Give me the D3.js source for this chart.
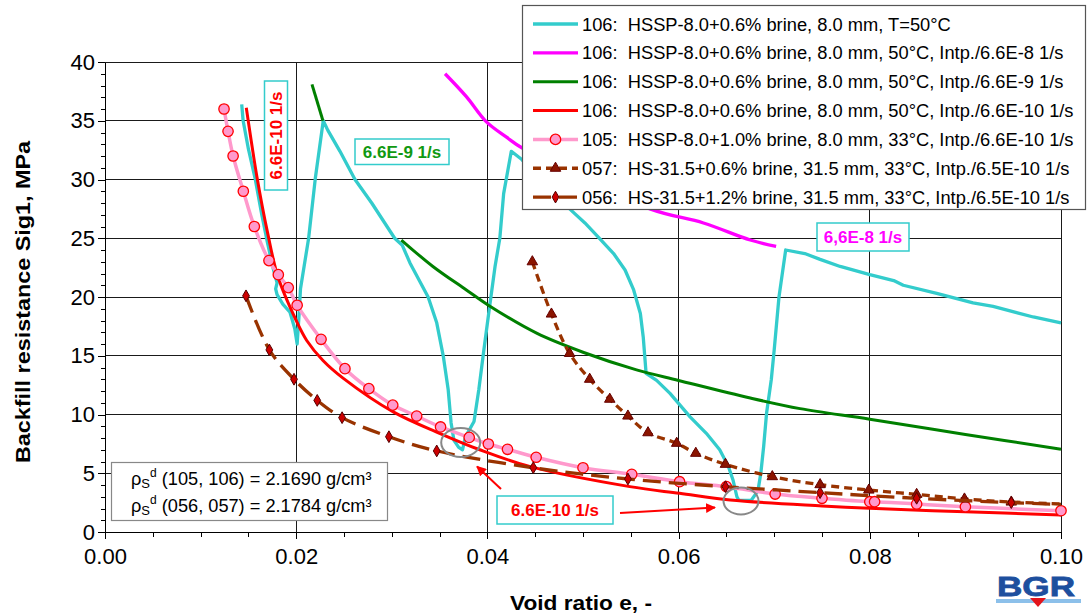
<!DOCTYPE html>
<html>
<head>
<meta charset="utf-8">
<script src="https://cdn.jsdelivr.net/npm/d3@7"></script>
<style>
  body { margin: 0; background: #fff; }
  svg { display: block; font-family: Arial, "Liberation Sans", sans-serif; }
  text { white-space: pre; }
</style>
</head>
<body>
<svg id="chart" width="1088" height="614"></svg>
<script>
// ---- axis ticks ----
const xMajorTicks = [0, 0.02, 0.04, 0.06, 0.08, 0.10];
const xMinorTicks = d3.range(0, 0.1001, 0.005);
const yMajorTicks = [0, 5, 10, 15, 20, 25, 30, 35, 40];
const yMinorTicks = d3.range(0, 41, 1);

// ---- 106 measured curve (void ratio, Sig1 MPa) ----
const measured106 = [
  [0.01430, 36.4], [0.01445, 35.0], [0.01500, 32.6], [0.01570, 30.1], [0.01640, 27.0],
  [0.01700, 24.6], [0.01760, 22.4], [0.01800, 21.2], [0.01785, 20.7], [0.01800, 20.2],
  [0.01860, 19.4], [0.01935, 18.7], [0.01985, 17.3], [0.02010, 16.0],
  [0.02030, 18.5], [0.02045, 20.7], [0.02130, 25.0], [0.02200, 30.1], [0.02283, 35.0],
  [0.02330, 34.2], [0.02458, 32.4], [0.02615, 30.0], [0.02790, 28.0], [0.03030, 25.0],
  [0.03110, 24.4], [0.03190, 22.9], [0.03380, 20.0], [0.03470, 17.8], [0.03540, 14.9],
  [0.03590, 12.1], [0.03620, 9.3], [0.03650, 7.8], [0.03700, 7.2], [0.03740, 7.0],
  [0.03770, 8.1], [0.03860, 9.4], [0.03910, 12.1], [0.03960, 15.3], [0.04020, 19.0],
  [0.04080, 22.6], [0.04130, 25.0], [0.04170, 28.8], [0.04250, 32.4],
  [0.04360, 31.7], [0.04860, 27.5], [0.05020, 26.3], [0.05160, 25.1], [0.05320, 23.7],
  [0.05440, 22.3], [0.05530, 20.6], [0.05600, 18.6], [0.05630, 16.6], [0.05660, 13.5],
  [0.05770, 12.9], [0.05910, 11.8], [0.06120, 9.8], [0.06290, 8.4], [0.06430, 7.0],
  [0.06520, 5.6], [0.06570, 4.4], [0.06610, 3.0], [0.06630, 2.7], [0.06760, 2.7],
  [0.06830, 3.5], [0.06860, 5.0], [0.06890, 7.3], [0.06920, 10.1], [0.06970, 13.0],
  [0.07000, 15.5], [0.07050, 20.0], [0.07120, 24.0],
  [0.07320, 23.7], [0.07480, 23.2], [0.07690, 22.6], [0.08000, 21.9], [0.08250, 21.4],
  [0.08350, 21.0], [0.08700, 20.3], [0.09080, 19.5], [0.09290, 19.2], [0.09710, 18.3],
  [0.10000, 17.8]
];

// ---- 106 interpolated at 6.6E-8 1/s ----
const intp8E = [0.03557, 0.0378, 0.0399, 0.0420, 0.0436, 0.0570, 0.0626, 0.0675, 0.0702];
const intp8S = [39.0, 37.05, 34.9, 33.6, 32.7, 27.5, 26.3, 24.85, 24.3];

// ---- 106 interpolated at 6.6E-9 1/s (two branches) ----
const intp9aE = [0.02165, 0.0228];
const intp9aS = [38.1, 35.0];
const intp9bE = [0.0310, 0.0343, 0.0378, 0.0401, 0.0452, 0.0500, 0.0556, 0.0600, 0.0675, 0.0727, 0.0800, 0.0900, 0.1000];
const intp9bS = [24.85, 22.6, 20.6, 19.3, 16.9, 15.3, 13.8, 12.9, 11.4, 10.5, 9.6, 8.3, 7.05];

// ---- 106 interpolated at 6.6E-10 1/s ----
const intp10E = [0.01478, 0.0159, 0.0170, 0.0181, 0.0200, 0.0211, 0.0228, 0.0249, 0.0302, 0.0350, 0.0392, 0.0445, 0.0549, 0.0601, 0.0654, 0.0750, 0.0800, 0.0900, 0.1000];
const intp10S = [36.1, 30.2, 25.5, 21.7, 18.0, 16.3, 14.6, 13.1, 10.2, 8.4, 7.0, 5.56, 3.86, 3.29, 2.72, 2.22, 2.02, 1.72, 1.45];

// ---- 105 interpolated at 6.6E-10 1/s ----
const s105E = [0.01245, 0.01287, 0.0134, 0.01447, 0.01562, 0.01715, 0.01813, 0.01917, 0.0201, 0.0226,
               0.0251, 0.0276, 0.0301, 0.0326, 0.0351, 0.0381, 0.0401, 0.0421, 0.0451, 0.0500,
               0.0551, 0.0601, 0.0650, 0.0701, 0.0750, 0.0800, 0.0805, 0.0849, 0.0900, 0.1000];
const s105S = [36.0, 34.1, 32.0, 29.0, 26.0, 23.1, 21.9, 20.8, 19.3, 16.4,
               13.9, 12.2, 10.8, 9.87, 8.94, 8.05, 7.49, 7.04, 6.36, 5.47,
               4.91, 4.28, 3.86, 3.23, 2.87, 2.58, 2.58, 2.38, 2.15, 1.81];

// ---- 057 interpolated at 6.5E-10 1/s (last point: line end, no marker) ----
const s057E = [0.0447, 0.0467, 0.0486, 0.0507, 0.0528, 0.0547, 0.0568, 0.0598, 0.0618, 0.0649,
               0.0698, 0.0748, 0.0799, 0.0849, 0.0899, 0.0948, 0.1000];
const s057S = [23.0, 18.55, 15.2, 13.0, 11.3, 9.87, 8.45, 7.55, 6.7, 5.76,
               4.71, 4.03, 3.57, 3.2, 2.81, 2.55, 2.38];

// ---- 056 interpolated at 6.5E-10 1/s (last point: line end, no marker) ----
const s056E = [0.01475, 0.01719, 0.01977, 0.0222, 0.0248, 0.0297, 0.0347, 0.0448, 0.0547, 0.0649,
               0.0748, 0.0849, 0.0948, 0.1000];
const s056S = [20.1, 15.5, 13.0, 11.2, 9.73, 8.11, 6.9, 5.47, 4.51, 3.86,
               3.35, 2.87, 2.5, 2.35];

// ---- legend entries ----
const legendLabels = [
  "106:  HSSP-8.0+0.6% brine, 8.0 mm, T=50°C",
  "106:  HSSP-8.0+0.6% brine, 8.0 mm, 50°C, Intp./6.6E-8 1/s",
  "106:  HSSP-8.0+0.6% brine, 8.0 mm, 50°C, Intp./6.6E-9 1/s",
  "106:  HSSP-8.0+0.6% brine, 8.0 mm, 50°C, Intp./6.6E-10 1/s",
  "105:  HSSP-8.0+1.0% brine, 8.0 mm, 33°C, Intp./6.6E-10 1/s",
  "057:  HS-31.5+0.6% brine, 31.5 mm, 33°C, Intp./6.5E-10 1/s",
  "056:  HS-31.5+1.2% brine, 31.5 mm, 33°C, Intp./6.5E-10 1/s"
];

const zip = (a, b) => a.map((v, i) => [v, b[i]]);

// ---- styles ----
const C = {
  cyan: "#33cccc", magenta: "#ff00ff", green: "#008000", red: "#ff0000",
  pink: "#ff99cc", brown: "#993300", grid: "#1a1a1a"
};

const svg = d3.select("#chart");
const W = 1088, H = 614;
svg.append("rect").attr("width", W).attr("height", H).attr("fill", "#fff");

const x = d3.scaleLinear().domain([0, 0.1]).range([105, 1061]);
const y = d3.scaleLinear().domain([0, 40]).range([532, 62]);

// gridlines
const grid = svg.append("g").attr("shape-rendering", "crispEdges");
grid.selectAll("line.h").data(yMajorTicks.filter(d => d > 0)).join("line")
  .attr("x1", x(0)).attr("x2", x(0.1))
  .attr("y1", d => y(d)).attr("y2", d => y(d))
  .attr("stroke", C.grid).attr("stroke-width", 1);
grid.selectAll("line.v").data(xMajorTicks.filter(d => d > 0)).join("line")
  .attr("x1", d => x(d)).attr("x2", d => x(d))
  .attr("y1", y(0)).attr("y2", y(40))
  .attr("stroke", C.grid).attr("stroke-width", 1);

// axes
const fmtX = d3.format(".2f");
const xAxis = svg.append("g").attr("transform", `translate(0,${y(0)})`)
  .call(d3.axisBottom(x).tickValues(xMajorTicks).tickSize(7).tickSizeOuter(0).tickPadding(9).tickFormat(fmtX));
const xMinor = svg.append("g").attr("transform", `translate(0,${y(0)})`)
  .call(d3.axisBottom(x).tickValues(xMinorTicks).tickSize(5).tickSizeOuter(0).tickFormat(""));
const yAxis = svg.append("g").attr("transform", `translate(${x(0)},0)`)
  .call(d3.axisLeft(y).tickValues(yMajorTicks).tickSize(7).tickSizeOuter(0).tickPadding(3).tickFormat(d3.format("d")));
const yMinor = svg.append("g").attr("transform", `translate(${x(0)},0)`)
  .call(d3.axisLeft(y).tickValues(yMinorTicks).tickSize(4).tickSizeOuter(0).tickFormat(""));
[xAxis, xMinor, yAxis, yMinor].forEach(g => {
  g.attr("font-family", null).attr("font-size", null);
  g.selectAll("path, line").attr("stroke", "#000").attr("stroke-width", 1).attr("shape-rendering", "crispEdges");
  g.selectAll("text").attr("font-size", 22).attr("fill", "#000");
});

// axis titles
svg.append("text").attr("x", 581).attr("y", 610).attr("text-anchor", "middle")
  .attr("font-size", 21).attr("font-weight", "bold").attr("fill", "#000")
  .attr("textLength", 142).attr("lengthAdjust", "spacingAndGlyphs")
  .text("Void ratio e, -");
svg.append("text").attr("transform", "translate(30,302) rotate(-90)").attr("text-anchor", "middle")
  .attr("font-size", 21).attr("font-weight", "bold").attr("fill", "#000")
  .attr("textLength", 322).attr("lengthAdjust", "spacingAndGlyphs")
  .text("Backfill resistance Sig1, MPa");

const plot = svg.append("g");
const lineLin = d3.line().x(d => x(d[0])).y(d => y(d[1]));
const lineSmooth = d3.line().x(d => x(d[0])).y(d => y(d[1])).curve(d3.curveCatmullRom.alpha(0.5));

// 106 measured
plot.append("path").datum(measured106).attr("d", lineLin)
  .attr("fill", "none").attr("stroke", C.cyan).attr("stroke-width", 3.3).attr("stroke-linejoin", "round");
// 106 at 6.6E-8
plot.append("path").datum(zip(intp8E, intp8S)).attr("d", lineSmooth)
  .attr("fill", "none").attr("stroke", C.magenta).attr("stroke-width", 3.3);
// 106 at 6.6E-9
[zip(intp9aE, intp9aS), zip(intp9bE, intp9bS)].forEach(seg => {
  plot.append("path").datum(seg).attr("d", lineSmooth)
    .attr("fill", "none").attr("stroke", C.green).attr("stroke-width", 3);
});
// 106 at 6.6E-10
plot.append("path").datum(zip(intp10E, intp10S)).attr("d", lineSmooth)
  .attr("fill", "none").attr("stroke", C.red).attr("stroke-width", 3);
// 105
const d105 = zip(s105E, s105S);
plot.append("path").datum(d105).attr("d", lineSmooth)
  .attr("fill", "none").attr("stroke", C.pink).attr("stroke-width", 3.5);
plot.selectAll("circle.m105").data(d105).join("circle")
  .attr("cx", d => x(d[0])).attr("cy", d => y(d[1])).attr("r", 5.2)
  .attr("fill", C.pink).attr("stroke", C.red).attr("stroke-width", 1.3);
// 057
const d057 = zip(s057E, s057S);
plot.append("path").datum(d057).attr("d", lineSmooth)
  .attr("fill", "none").attr("stroke", C.brown).attr("stroke-width", 3.3).attr("stroke-dasharray", "8,5");
const tri = d3.symbol().type(d3.symbolTriangle).size(48);
plot.selectAll("path.m057").data(d057.slice(0, -1)).join("path")
  .attr("d", tri).attr("transform", d => `translate(${x(d[0])},${y(d[1])})`)
  .attr("fill", "#8b1500").attr("stroke", "#660000").attr("stroke-width", 1);
// 056
const d056 = zip(s056E, s056S);
plot.append("path").datum(d056).attr("d", lineSmooth)
  .attr("fill", "none").attr("stroke", C.brown).attr("stroke-width", 3.3).attr("stroke-dasharray", "18,8");
const dia = d3.symbol().type(d3.symbolDiamond).size(40);
plot.selectAll("path.m056").data(d056.slice(0, -1)).join("path")
  .attr("d", dia).attr("transform", d => `translate(${x(d[0])},${y(d[1])})`)
  .attr("fill", "#cc0000").attr("stroke", "#550000").attr("stroke-width", 1);

// ---- annotations ----
const ann = svg.append("g");
function labelBox(x0, y0, w, h, txt, color, rotate) {
  ann.append("rect").attr("x", x0).attr("y", y0).attr("width", w).attr("height", h)
    .attr("fill", "#fff").attr("stroke", C.cyan).attr("stroke-width", 1.5);
  const cx = x0 + w / 2, cy = y0 + h / 2;
  ann.append("text").attr("transform", `translate(${cx},${cy})` + (rotate ? " rotate(-90)" : ""))
    .attr("text-anchor", "middle").attr("dy", "0.36em")
    .attr("font-size", 17).attr("font-weight", "bold").attr("fill", color).text(txt);
}
labelBox(264.5, 81, 23, 109, "6.6E-10 1/s", C.red, true);
labelBox(355, 139, 94, 25.5, "6.6E-9 1/s", "#119911", false);
labelBox(817, 223, 92, 28, "6,6E-8 1/s", C.magenta, false);
labelBox(497, 496, 116, 28, "6.6E-10 1/s", C.red, false);

// circled dips
ann.append("ellipse").attr("cx", 460.7).attr("cy", 442.5).attr("rx", 19.5).attr("ry", 14.5)
  .attr("fill", "none").attr("stroke", "#888").attr("stroke-width", 2);
ann.append("ellipse").attr("cx", 741).attr("cy", 501).attr("rx", 17.5).attr("ry", 13.5)
  .attr("fill", "none").attr("stroke", "#888").attr("stroke-width", 2);

// arrows
const defs = svg.append("defs");
defs.append("marker").attr("id", "arrowhead").attr("viewBox", "0 0 10 10")
  .attr("refX", 9).attr("refY", 5).attr("markerWidth", 5).attr("markerHeight", 5)
  .attr("orient", "auto-start-reverse")
  .append("path").attr("d", "M0,0 L10,5 L0,10 z").attr("fill", C.red);
ann.append("line").attr("x1", 501).attr("y1", 489).attr("x2", 477).attr("y2", 466.5)
  .attr("stroke", C.red).attr("stroke-width", 2).attr("marker-end", "url(#arrowhead)");
ann.append("line").attr("x1", 620).attr("y1", 513).attr("x2", 715).attr("y2", 507.5)
  .attr("stroke", C.red).attr("stroke-width", 2).attr("marker-end", "url(#arrowhead)");

// density box
ann.append("rect").attr("x", 111.5).attr("y", 462.5).attr("width", 276).attr("height", 58)
  .attr("fill", "#fff").attr("stroke", "#888").attr("stroke-width", 1.2);
const densRows = [["(105, 106) = 2.1690 g/cm³", 485], ["(056, 057) = 2.1784 g/cm³", 512]];
densRows.forEach(([t, yy]) => {
  const tx = ann.append("text").attr("x", 131).attr("y", yy).attr("font-size", 18.2).attr("fill", "#000");
  tx.append("tspan").text("ρ");
  tx.append("tspan").attr("font-size", 13).attr("dy", 3).text("S");
  tx.append("tspan").attr("font-size", 12).attr("dy", -11).text("d");
  tx.append("tspan").attr("dy", 8).text(" " + t);
});

// ---- legend ----
const leg = svg.append("g");
leg.append("rect").attr("x", 522.5).attr("y", 5.5).attr("width", 563).attr("height", 204)
  .attr("fill", "#fff").attr("stroke", "#555").attr("stroke-width", 1.2);
const legStyles = [
  { color: C.cyan, w: 3.3 },
  { color: C.magenta, w: 3.3 },
  { color: C.green, w: 3 },
  { color: C.red, w: 3 },
  { color: C.pink, w: 3.5, marker: "circle" },
  { color: C.brown, w: 3.3, dash: "8,5", marker: "tri" },
  { color: C.brown, w: 3.3, dash: "18,8", marker: "dia" }
];
legendLabels.forEach((lab, i) => {
  const cy = 24 + i * 28.85;
  const st = legStyles[i];
  leg.append("line").attr("x1", 533).attr("x2", 578).attr("y1", cy).attr("y2", cy)
    .attr("stroke", st.color).attr("stroke-width", st.w)
    .attr("stroke-dasharray", st.dash || null);
  if (st.marker === "circle") {
    leg.append("circle").attr("cx", 555.5).attr("cy", cy).attr("r", 5.2)
      .attr("fill", C.pink).attr("stroke", C.red).attr("stroke-width", 1.3);
  } else if (st.marker === "tri") {
    leg.append("path").attr("d", tri).attr("transform", `translate(555.5,${cy})`)
      .attr("fill", "#8b1500").attr("stroke", "#660000");
  } else if (st.marker === "dia") {
    leg.append("path").attr("d", dia).attr("transform", `translate(555.5,${cy})`)
      .attr("fill", "#cc0000").attr("stroke", "#550000");
  }
  leg.append("text").attr("x", 582).attr("y", cy).attr("dy", "0.36em")
    .attr("font-size", 18.3).attr("fill", "#000").text(lab);
});

// ---- BGR mark ----
const logo = svg.append("g");
logo.append("text").attr("x", 997).attr("y", 596).attr("font-size", 28).attr("font-weight", "bold")
  .attr("fill", "#1d4f9e").attr("stroke", "#1d4f9e").attr("stroke-width", 0.8)
  .attr("textLength", 78).attr("lengthAdjust", "spacingAndGlyphs").text("BGR");
logo.append("rect").attr("x", 996).attr("y", 599).attr("width", 85).attr("height", 4).attr("fill", "#8cc0ea");
logo.append("path").attr("d", "M1030,598 L1046,598 L1038,607 Z").attr("fill", "#e3141b");
</script>
</body>
</html>
